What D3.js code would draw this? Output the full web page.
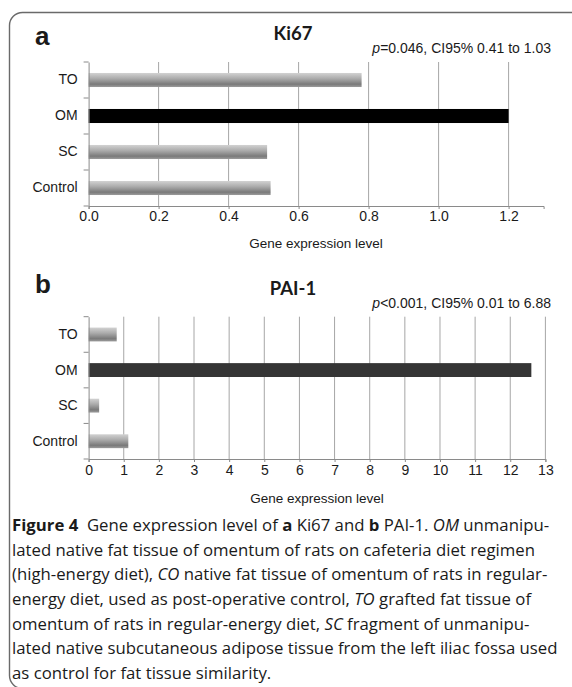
<!DOCTYPE html>
<html>
<head>
<meta charset="utf-8">
<script src="https://cdn.jsdelivr.net/npm/d3@7"></script>
<style>
  body { margin: 0; background: #fff; }
  svg text { font-family: "Liberation Sans", Arial, sans-serif; fill: #1a1a1a; }
  .title { font-family: Lato, "Open Sans", sans-serif; font-weight: 700; }
  .cap { font-family: "Open Sans", "Noto Sans", sans-serif; }
</style>
</head>
<body>
<svg id="fig" width="572" height="687"></svg>
<script>
// data
var categories = ["TO", "OM", "SC", "Control"];
var ki67Values = [0.78, 1.20, 0.51, 0.52];
var pai1Values = [0.80, 12.6, 0.30, 1.13];
var ki67Ticks = [0, 0.2, 0.4, 0.6, 0.8, 1.0, 1.2];
var pai1Ticks = [0, 1, 2, 3, 4, 5, 6, 7, 8, 9, 10, 11, 12, 13];

var svg = d3.select("#fig");

// frame round the whole figure
svg.append("rect")
	.attr("x", 9.5).attr("y", 12.5)
	.attr("width", 620).attr("height", 676)
	.attr("rx", 13)
	.attr("fill", "none")
	.attr("stroke", "#6a6a6a")
	.attr("stroke-width", 1.4);

var defs = svg.append("defs");
var grad = defs.append("linearGradient")
	.attr("id", "barGrey")
	.attr("x1", 0).attr("y1", 0).attr("x2", 0).attr("y2", 1);
grad.append("stop").attr("offset", "0%").attr("stop-color", "#d2d2d2");
grad.append("stop").attr("offset", "40%").attr("stop-color", "#ababab");
grad.append("stop").attr("offset", "80%").attr("stop-color", "#7a7a7a");
grad.append("stop").attr("offset", "100%").attr("stop-color", "#9c9c9c");

function drawPanel(opt) {
	var x = d3.scaleLinear().domain(opt.domain).range([88.6, opt.right]);
	var y = d3.scaleBand().domain(categories).range([opt.top, opt.bottom]).paddingInner(0.61).paddingOuter(0.305);

	var g = svg.append("g");

	// letter, title, stats
	g.append("text")
		.attr("x", 35).attr("y", opt.letterY)
		.style("font-size", "26px").style("font-weight", "bold")
		.text(opt.letter);
	g.append("text").attr("class", "title")
		.attr("x", 293).attr("y", opt.top - 22)
		.attr("text-anchor", "middle")
		.style("font-size", "18.5px")
		.text(opt.title);
	var st = g.append("text")
		.attr("x", 551).attr("y", opt.top - 9)
		.attr("text-anchor", "end")
		.style("font-size", "14px");
	st.append("tspan").style("font-style", "italic").text("p");
	st.append("tspan").text(opt.stat);

	// vertical grid
	g.selectAll(".grid")
		.data(opt.ticks.filter(function(d) { return d > 0; }))
		.enter().append("line")
		.attr("x1", function(d) { return x(d); })
		.attr("x2", function(d) { return x(d); })
		.attr("y1", opt.top).attr("y2", opt.bottom)
		.attr("stroke", "#a6a6a6").attr("stroke-width", 1);

	// bars
	g.selectAll(".bar")
		.data(opt.values)
		.enter().append("rect")
		.attr("x", x(0))
		.attr("y", function(d, i) { return y(categories[i]); })
		.attr("width", function(d) { return x(d) - x(0); })
		.attr("height", y.bandwidth())
		.attr("fill", function(d, i) { return categories[i] == "OM" ? opt.omColor : "url(#barGrey)"; });

	// axes
	var xAxis = d3.axisBottom(x).tickValues(opt.ticks).tickSize(3).tickPadding(opt.pad)
		.tickFormat(opt.format);
	var gx = g.append("g")
		.attr("transform", "translate(0," + opt.bottom + ")")
		.call(xAxis);
	var yAxis = d3.axisLeft(y).tickSize(0).tickPadding(11);
	var gy = g.append("g")
		.attr("transform", "translate(" + x(0) + ",0)")
		.call(yAxis);
	// band boundary ticks on the category axis
	g.selectAll(".ytick")
		.data(d3.range(categories.length + 1))
		.enter().append("line")
		.attr("x1", x(0) - 5).attr("x2", x(0))
		.attr("y1", function(i) { return opt.top + i * (opt.bottom - opt.top) / categories.length; })
		.attr("y2", function(i) { return opt.top + i * (opt.bottom - opt.top) / categories.length; })
		.attr("stroke", "#8a8a8a");

	[gx, gy].forEach(function(a) {
		a.select(".domain").attr("stroke", "#8a8a8a");
		a.selectAll(".tick line").attr("stroke", "#8a8a8a");
		a.selectAll("text").style("font-size", "14px").style("font-family", "Liberation Sans, Arial, sans-serif").attr("fill", "#1a1a1a");
	});

	g.append("text")
		.attr("x", (x.range()[0] + x.range()[1]) / 2)
		.attr("y", opt.titleY)
		.attr("text-anchor", "middle")
		.style("font-size", "13.5px")
		.text("Gene expression level");
}

drawPanel({
	letter: "a", title: "Ki67", stat: "=0.046, CI95% 0.41 to 1.03",
	values: ki67Values, ticks: ki67Ticks, domain: [0, 1.3], right: 543.6,
	top: 62, bottom: 206, titleY: 248, letterY: 45, pad: 2, omColor: "#000",
	format: d3.format(".1f")
});
drawPanel({
	letter: "b", title: "PAI-1", stat: "<0.001, CI95% 0.01 to 6.88",
	values: pai1Values, ticks: pai1Ticks, domain: [0, 13], right: 545.4,
	top: 316.7, bottom: 459, titleY: 503, letterY: 293, pad: 3, omColor: "#353535",
	format: d3.format("d")
});

// caption
var caption = [
	[["Figure 4", "b"], ["  Gene expression level of ", ""], ["a", "b"], [" Ki67 and ", ""], ["b", "b"], [" PAI-1. ", ""], ["OM", "i"], [" unmanipu-", ""]],
	[["lated native fat tissue of omentum of rats on cafeteria diet regimen", ""]],
	[["(high-energy diet), ", ""], ["CO", "i"], [" native fat tissue of omentum of rats in regular-", ""]],
	[["energy diet, used as post-operative control, ", ""], ["TO", "i"], [" grafted fat tissue of", ""]],
	[["omentum of rats in regular-energy diet, ", ""], ["SC", "i"], [" fragment of unmanipu-", ""]],
	[["lated native subcutaneous adipose tissue from the left iliac fossa used", ""]],
	[["as control for fat tissue similarity.", ""]]
];

var capG = svg.append("g").attr("class", "cap");
var lines = capG.selectAll("text")
	.data(caption)
	.enter().append("text")
	.attr("class", "cap")
	.attr("x", 12)
	.attr("y", function(d, i) { return 531 + i * 24.67; })
	.style("font-size", "18px")
	.attr("xml:space", "preserve");
lines.selectAll("tspan")
	.data(function(d) { return d; })
	.enter().append("tspan")
	.style("font-weight", function(d) { return d[1] == "b" ? "bold" : "normal"; })
	.style("font-style", function(d) { return d[1] == "i" ? "italic" : "normal"; })
	.text(function(d) { return d[0]; });

// fit the caption size to the width of the longest line
var w = lines.filter(function(d, i) { return i == 5; }).node().getComputedTextLength();
var size = 18 * 546 / w;
lines.style("font-size", size + "px");
</script>
</body>
</html>
